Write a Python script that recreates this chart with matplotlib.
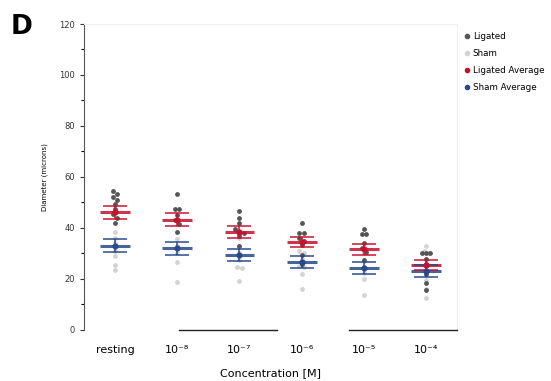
import matplotlib.pyplot as plt
import numpy as np

categories = ['resting', '10⁻⁸', '10⁻⁷', '10⁻⁶', '10⁻⁵', '10⁻⁴']

ligated_pts = [
    [54.5, 53.3, 52.2, 51.0, 49.5, 47.5, 45.5, 44.0, 41.8],
    [53.3, 47.3, 47.3, 45.0, 43.0, 41.5, 38.3],
    [46.7, 44.0, 42.0, 39.5, 38.0, 38.0, 37.0, 33.0],
    [41.8, 38.2, 38.2, 36.0, 35.0, 33.5, 29.5, 26.0],
    [39.5, 37.5, 37.5, 34.0, 32.0, 30.5, 27.5],
    [30.3, 30.3, 30.3, 28.0, 26.0, 22.0, 18.5, 15.7],
]
sham_pts = [
    [38.5, 36.0, 34.0, 31.0, 29.0, 25.5, 23.5],
    [35.5, 33.0, 30.0, 26.8, 18.8],
    [36.0, 33.0, 30.0, 27.5, 24.8, 24.4, 19.3],
    [31.0, 30.0, 28.0, 25.0, 24.5, 21.8, 16.0],
    [30.0, 27.0, 24.5, 22.5, 20.1, 13.8],
    [33.0, 31.0, 30.0, 28.0, 25.0, 22.0, 19.5, 16.0, 12.7],
]

ligated_mean = [46.1, 43.2, 38.3, 34.4, 31.6, 25.6]
ligated_sem = [2.4, 2.5, 2.3, 2.0, 2.2, 1.9]
sham_mean = [33.1, 32.0, 29.5, 26.6, 24.3, 23.1]
sham_sem = [2.6, 2.6, 2.4, 2.3, 2.2, 2.4]

# the two black lines under the axis
brackets = [(1.03, 2.6), (3.76, 5.5)]

red = '#c8102e'
blue = '#27498a'


def swarm(vals, x0, step=0.07, tol=1.6):
    # spread near-equal values sideways
    xs = np.full(len(vals), float(x0))
    vals = np.asarray(vals)
    used = np.zeros(len(vals), bool)
    for i in range(len(vals)):
        if used[i]:
            continue
        grp = [j for j in range(len(vals)) if not used[j] and abs(vals[j] - vals[i]) < tol]
        for k, j in enumerate(grp):
            xs[j] = x0 + (k - (len(grp) - 1) / 2) * step
            used[j] = True
    return xs


fig = plt.figure(figsize=(5.51, 3.81), dpi=100)
ax = fig.add_axes([0.1525, 0.134, 0.677, 0.803])

for i in range(len(categories)):
    ax.scatter(swarm(sham_pts[i], i), sham_pts[i], s=12, color='#d3d3d3', zorder=2, linewidths=0)
    ax.scatter(swarm(ligated_pts[i], i), ligated_pts[i], s=12, color='#555555', zorder=3, linewidths=0)

for means, sems, col in [(sham_mean, sham_sem, blue), (ligated_mean, ligated_sem, red)]:
    x = np.arange(len(means))
    ax.hlines(means, x - 0.24, x + 0.24, color=col, lw=2.2, alpha=0.85, zorder=4)
    ax.errorbar(x, means, yerr=sems, fmt='o', color=col, ms=3.5, elinewidth=1.2,
                capsize=8.5, capthick=1.2, zorder=5, ecolor=col, alpha=0.9)

for a, b in brackets:
    ax.plot([a, b], [0, 0], color='#222222', lw=1, clip_on=False, zorder=6)

ax.set_xlim(-0.5, 5.5)
ax.set_ylim(0, 120)
ax.set_yticks(range(0, 121, 20))
ax.set_yticks(range(10, 120, 20), minor=True)
ax.set_xticks(range(len(categories)))
ax.set_xticklabels(categories, fontsize=8)
ax.tick_params(axis='x', length=0, pad=11)
ax.tick_params(axis='y', labelsize=6, colors='#333333', length=3, width=0.8)
ax.tick_params(axis='y', which='minor', length=2, width=0.8)
ax.spines['left'].set_color('#555555')
ax.spines['bottom'].set_visible(False)
ax.spines['top'].set_color('#eeeeee')
ax.spines['right'].set_color('#eeeeee')
ax.set_ylabel('Diameter (microns)', fontsize=5, labelpad=8)
ax.set_xlabel('Concentration [M]', fontsize=8, labelpad=9)

handles = [
    plt.Line2D([], [], ls='', marker='o', ms=3, color='#555555', label='Ligated'),
    plt.Line2D([], [], ls='', marker='o', ms=3, color='#d3d3d3', label='Sham'),
    plt.Line2D([], [], ls='', marker='o', ms=3, color=red, label='Ligated Average'),
    plt.Line2D([], [], ls='', marker='o', ms=3, color=blue, label='Sham Average'),
]
ax.legend(handles=handles, loc='upper left', bbox_to_anchor=(1.0, 0.99), frameon=False,
          fontsize=6.3, handletextpad=0.2, labelspacing=0.9, handlelength=1.0,
          borderaxespad=0.2)

fig.text(0.02, 0.91, 'D', fontsize=19, fontweight='bold')

fig.savefig('out.png', dpi=100)
